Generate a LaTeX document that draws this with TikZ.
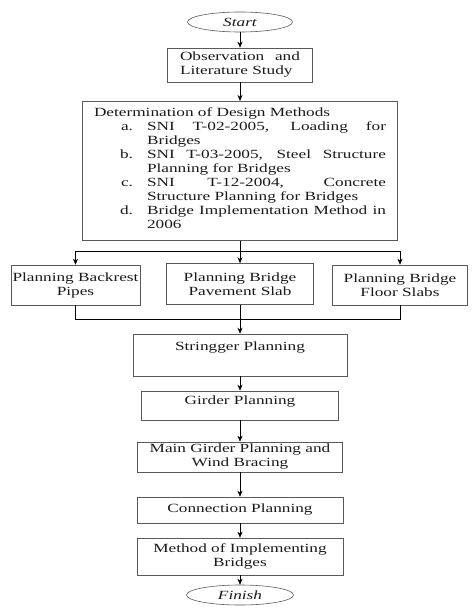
\documentclass[tikz,border=0pt]{standalone}
\usepackage{fontspec}
\setmainfont{Liberation Serif}[FakeStretch=1.38]
\usepackage{enumitem}
\usetikzlibrary{arrows.meta,shapes.geometric}

\newcommand{\boxfont}{\fontsize{12.5}{14}\selectfont\hyphenpenalty=10000\exhyphenpenalty=10000}

\tikzset{
  stepbox/.style={draw=black!65, line width=0.6pt, rectangle, align=center, inner xsep=1pt, inner ysep=1pt, font=\boxfont, text=black!90},
  termin/.style={draw=black!65, line width=0.6pt, ellipse, inner sep=0pt, minimum width=105pt, minimum height=20pt, font=\boxfont\itshape, text=black!90},
  flow/.style={-{Stealth[length=6pt,width=5pt]}, line width=0.6pt, black},
  link/.style={line width=0.6pt, black},
}

\begin{document}
\begin{tikzpicture}[x=1pt, y=-1pt]
        \useasboundingbox (0, 0) rectangle (472, 610);

        \node[termin] (start) at (240, 22) {Start};
        \node[stepbox, minimum width=145pt, minimum height=34pt, text width=120pt, align=justify] (obs) at (240, 65) {Observation and Literature Study};
        \node[stepbox, minimum width=315pt, minimum height=139pt, text width=292pt, align=justify, anchor=north] (det) at (240, 101) {Determination of Design Methods
            \begin{enumerate}[label=\alph*., leftmargin=53pt, labelsep=14pt, itemsep=0pt, topsep=0pt, parsep=0pt, partopsep=0pt]
                \item SNI T-02-2005, Loading for\linebreak Bridges
                \item SNI T-03-2005, Steel Structure\linebreak Planning for Bridges
                \item SNI T-12-2004, Concrete\linebreak Structure Planning for Bridges
                \item Bridge Implementation Method in 2006
            \end{enumerate}\vspace{5pt}};

        \coordinate (splitL) at (75.5, 251);
        \coordinate (splitR) at (400, 251);
        \coordinate (joinL) at (75.5, 319);
        \coordinate (joinR) at (400, 319);

        \node[stepbox, minimum width=129pt, minimum height=40pt] (pipes) at (75.5, 285) {Planning Backrest\\Pipes};
        \node[stepbox, minimum width=147pt, minimum height=41pt] (pave) at (240, 284) {Planning Bridge\\Pavement Slab};
        \node[stepbox, minimum width=135pt, minimum height=40pt] (floor) at (400, 285) {Planning Bridge\\Floor Slabs};

        \node[stepbox, minimum width=214pt, minimum height=42pt, text depth=17pt] (string) at (240, 355) {Stringger Planning};
        \node[stepbox, minimum width=197pt, minimum height=29pt, text depth=10pt] (girder) at (240, 405.5) {Girder Planning};
        \node[stepbox, minimum width=205pt, minimum height=30pt] (main) at (240, 457) {Main Girder Planning and\\Wind Bracing};
        \node[stepbox, minimum width=206pt, minimum height=26pt] (conn) at (240, 510) {Connection Planning};
        \node[stepbox, minimum width=206pt, minimum height=37pt] (method) at (240, 556.5) {Method of Implementing\\Bridges};
        \node[termin, minimum width=107pt] (finish) at (240, 595) {Finish};

        % top part
        \draw[flow] (start) -- (obs);
        \draw[flow] (obs) -- (det);

        % split into the three slabs
        \draw[link] (splitL) -- (splitR);
        \draw[flow] (det) -- (pave);
        \draw[flow] (splitL) -- (pipes);
        \draw[flow] (splitR) -- (floor);
        \draw[link] (pipes) -- (joinL) -- (joinR) -- (floor);
        \draw[flow] (pave) -- (string);

        % main column
        \draw[flow] (string) -- (girder);
        \draw[flow] (girder) -- (main);
        \draw[flow] (main) -- (conn);
        \draw[flow] (conn) -- (method);
        \draw[flow] (method) -- (finish);
    \end{tikzpicture}
\end{document}
